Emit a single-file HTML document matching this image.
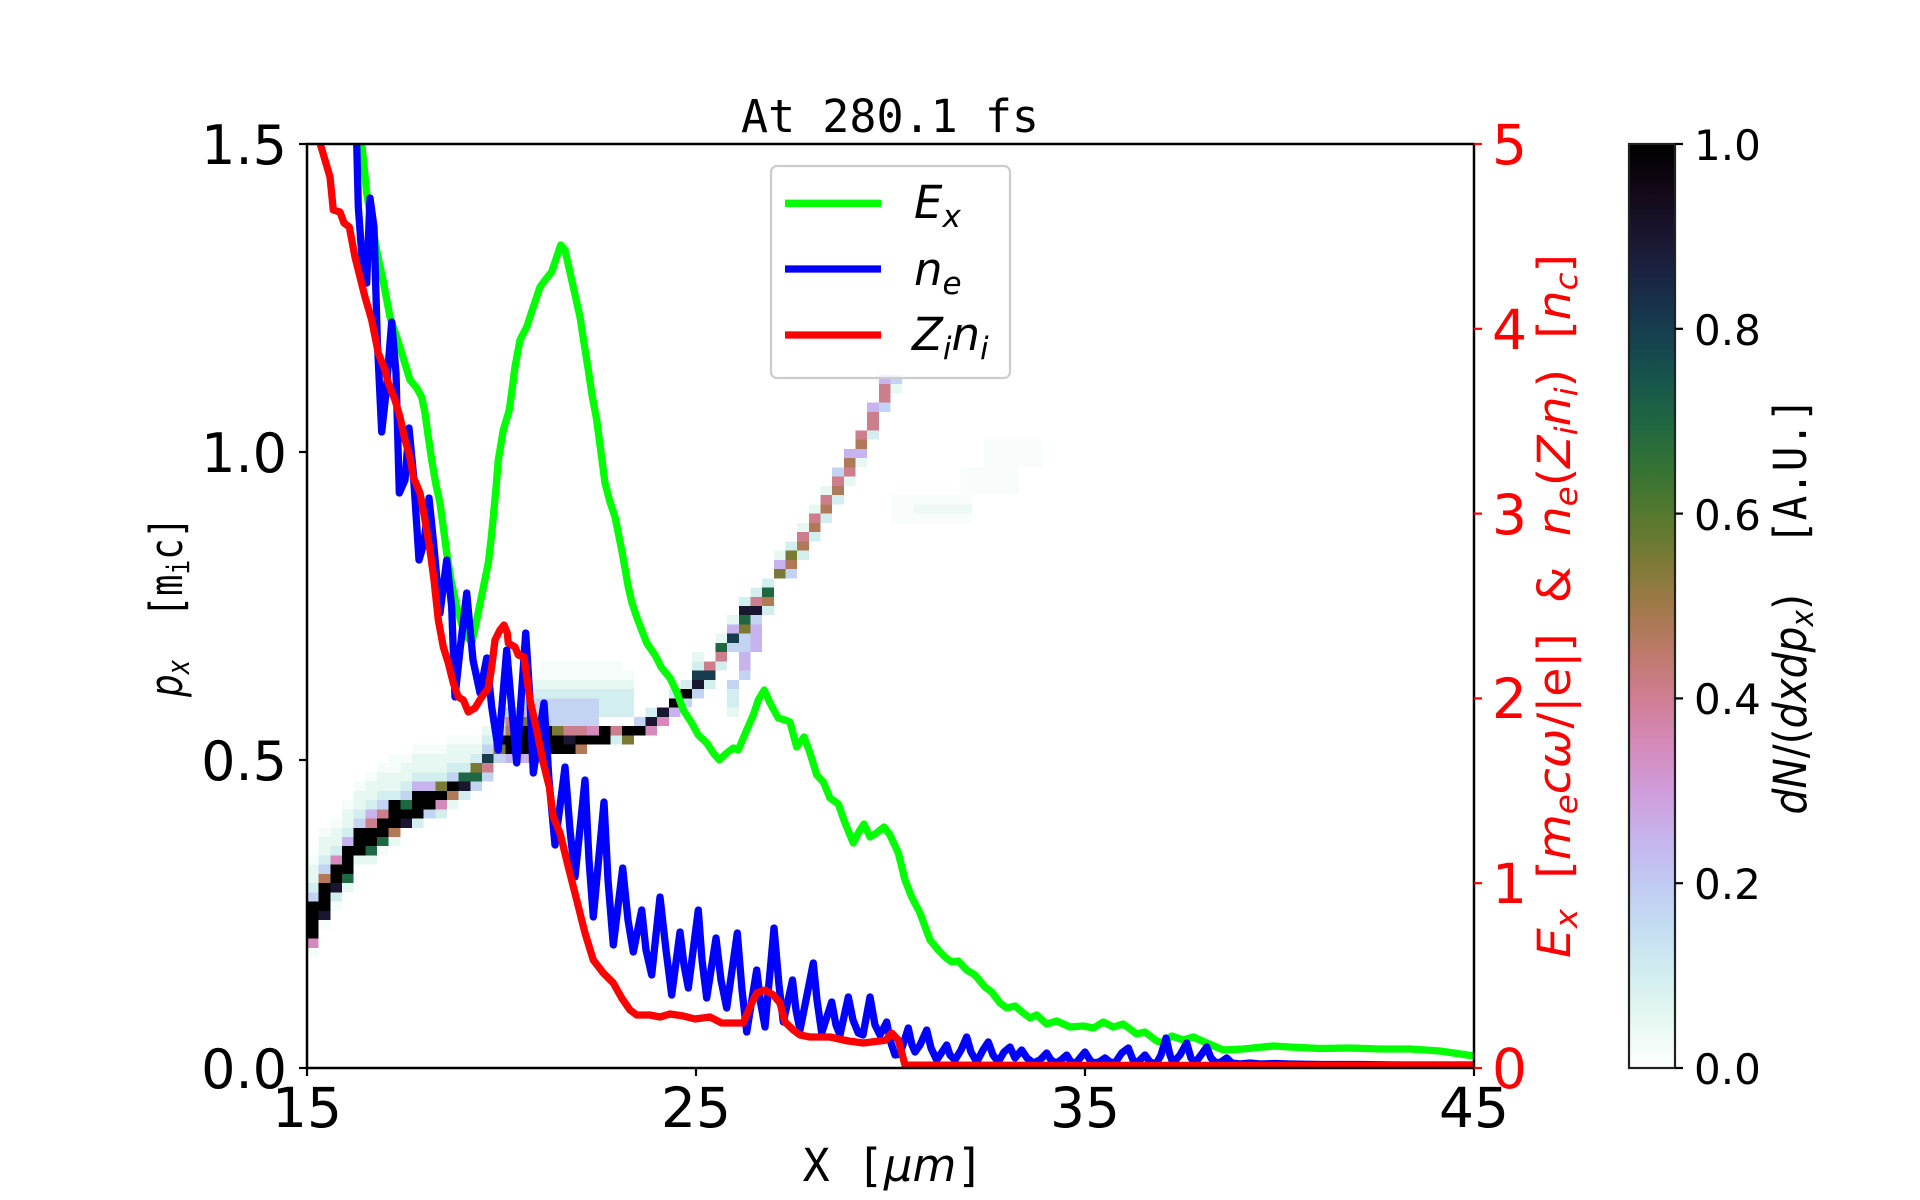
<!DOCTYPE html>
<html><head><meta charset="utf-8"><style>
html,body{margin:0;padding:0;background:#fff;}
svg{display:block;}
.tk{font-family:"DejaVu Sans","Liberation Sans",sans-serif;}
.mono{font-family:"DejaVu Sans Mono","Liberation Mono",monospace;}
</style></head><body>
<svg width="1920" height="1200" viewBox="0 0 1920 1200" xmlns="http://www.w3.org/2000/svg">
<defs>
<clipPath id="ax"><rect x="307" y="144" width="1167" height="924"/></clipPath>
<linearGradient id="cb" x1="0" y1="0" x2="0" y2="1">
<stop offset="0" stop-color="#000000"/><stop offset="0.05" stop-color="#120817"/><stop offset="0.10" stop-color="#1a1530"/><stop offset="0.15" stop-color="#1a2744"/><stop offset="0.20" stop-color="#163d4e"/><stop offset="0.25" stop-color="#16534c"/><stop offset="0.30" stop-color="#1f6642"/><stop offset="0.35" stop-color="#347335"/><stop offset="0.40" stop-color="#54792f"/><stop offset="0.45" stop-color="#7a7a35"/><stop offset="0.50" stop-color="#a07949"/><stop offset="0.55" stop-color="#be796a"/><stop offset="0.60" stop-color="#d07e93"/><stop offset="0.65" stop-color="#d48aba"/><stop offset="0.70" stop-color="#cf9cda"/><stop offset="0.75" stop-color="#c7b3ed"/><stop offset="0.80" stop-color="#c1caf3"/><stop offset="0.85" stop-color="#c5def2"/><stop offset="0.90" stop-color="#d2eeef"/><stop offset="0.95" stop-color="#e7f8f2"/><stop offset="1" stop-color="#ffffff"/>
</linearGradient>
</defs>
<rect width="1920" height="1200" fill="#fff"/>

<!-- heatmap -->
<g clip-path="url(#ax)">
<g transform="translate(307,1068) scale(11.67,-9.24)" shape-rendering="crispEdges">
<path fill="#f8fcfa" d="M50 59h7v3h-7z M56 62h5v3h-5z M58 65h5v3h-5z"/>
<path fill="#f5fcf9" d="M0 22h1v1h-1z M1 25h1v1h-1z M2 26h1v1h-1z M3 28h1v1h-1z M4 30h1v1h-1z M5 31h1v1h-1z M6 32h1v1h-1z M7 32h1v2h-1z M8 33h1v1h-1z M9 34h3v1h-3z M0 12h1v1h-1z M1 15h1v1h-1z M2 17h1v1h-1z M6 23h1v1h-1z M20 43h7v1h-7z M19 42h9v1h-9z M12 35h3v1h-3z"/>
<path fill="#eef9f5" d="M52 60h5v1h-5z"/>
<path fill="#e7f8f2" d="M0 20h1v2h-1z M1 23h1v2h-1z M2 24h1v2h-1z M3 26h1v2h-1z M3 19h1v1h-1z M4 28h1v2h-1z M4 22h1v1h-1z M5 29h1v2h-1z M5 22h1v1h-1z M6 30h1v2h-1z M7 30h1v2h-1z M7 24h1v1h-1z M8 31h1v2h-1z M9 32h1v2h-1z M10 32h1v2h-1z M11 32h1v2h-1z M12 33h1v2h-1z M12 28h1v1h-1z M13 33h1v2h-1z M14 34h1v1h-1z M15 36h1v1h-1z M16 38h1v1h-1z M19 41h9v1h-9z M33 44h1v1h-1z M35 46h1v1h-1z M36 48h1v1h-1z M40 55h1v1h-1z M42 58h1v1h-1z M43 60h1v1h-1z M44 62h1v1h-1z M46 63h1v1h-1z M47 65h1v1h-1z M50 73h1v1h-1z M36 38h1v1h-1z"/>
<path fill="#d2eeef" d="M0 19h1v1h-1z M1 22h1v1h-1z M2 23h1v1h-1z M2 18h1v1h-1z M3 25h1v1h-1z M4 27h1v1h-1z M5 28h1v1h-1z M6 29h2v1h-2z M8 30h1v1h-1z M9 31h3v1h-3z M9 26h1v1h-1z M11 27h1v1h-1z M12 32h2v1h-2z M13 29h1v1h-1z M14 33h1v1h-1z M15 35h1v1h-1z M16 37h1v1h-1z M19 40h9v1h-9z M25 38h3v2h-3z M20 33h1v1h-1z M26 35h1v1h-1z M29 38h1v1h-1z M31 40h1v1h-1z M32 41h1v1h-1z M33 43h1v1h-1z M34 41h1v1h-1z M35 43h1v1h-1z M37 50h1v1h-1z M38 51h1v1h-1z M39 49h1v1h-1z M39 52h1v1h-1z M41 56h1v1h-1z M42 55h1v1h-1z M43 57h1v1h-1z M44 59h1v1h-1z M45 61h1v1h-1z M48 68h1v1h-1z M36 39h1v2h-1z"/>
<path fill="#c3d4f2" d="M0 18h1v1h-1z M1 21h1v1h-1z M4 26h1v1h-1z M6 28h1v1h-1z M8 29h1v1h-1z M10 27h1v1h-1z M12 31h1v1h-1z M14 30h1v1h-1z M15 31h1v1h-1z M15 34h1v1h-1z M16 33h1v1h-1z M16 36h1v1h-1z M17 38h1v1h-1z M18 39h1v1h-1z M19 38h6v2h-6z M20 37h5v1h-5z M28 37h1v1h-1z M32 39h1v1h-1z M33 40h1v1h-1z M36 45h1v1h-1z M36 41h1v1h-1z M37 42h1v1h-1z M37 45h1v2h-1z M38 48h1v1h-1z M41 53h1v1h-1z M45 64h1v1h-1z M49 71h1v1h-1z M50 74h1v1h-1z"/>
<path fill="#c7b3ed" d="M3 24h1v1h-1z M5 27h1v1h-1z M9 30h2v1h-2z M17 33h2v1h-2z M18 38h1v1h-1z M31 38h1v1h-1z M36 47h1v1h-1z M37 43h1v2h-1z M38 45h1v3h-1z M40 54h1v1h-1z M46 66h2v1h-2z M48 71h1v1h-1z M49 74h1v1h-1z"/>
<path fill="#d48aba" d="M0 13h1v1h-1z M2 22h1v1h-1z M11 28h1v1h-1z M24 36h1v1h-1z M29 36h1v1h-1z M30 37h1v1h-1z"/>
<path fill="#cc7e8c" d="M5 26h1v1h-1z M6 27h1v1h-1z M15 32h1v1h-1z M17 37h1v1h-1z M19 33h1v1h-1z M19 37h1v1h-1z M22 36h2v1h-2z M26 36h1v1h-1z M34 43h1v1h-1z M35 44h1v1h-1z M38 50h1v1h-1z M42 57h1v1h-1z M43 59h1v1h-1z M44 61h1v1h-1z M45 63h1v1h-1z M46 64h1v1h-1z M47 68h1v1h-1z M48 69h1v2h-1z M49 72h1v2h-1z"/>
<path fill="#b07a5a" d="M1 20h1v1h-1z M7 25h1v1h-1z M12 29h1v1h-1z M17 36h1v1h-1z M23 34h1v1h-1z M39 50h1v1h-1z M41 54h1v1h-1z M42 56h1v1h-1z M43 58h1v1h-1z M44 60h1v1h-1z M45 62h1v1h-1z M46 65h1v1h-1z M47 67h1v1h-1z"/>
<path fill="#7a7a35" d="M11 30h1v1h-1z M14 32h1v1h-1z M16 34h1v1h-1z M18 37h1v1h-1z M21 36h1v1h-1z M27 35h1v1h-1z M37 47h1v1h-1z M40 53h1v1h-1z M41 55h1v1h-1z"/>
<path fill="#1f6642" d="M3 20h1v1h-1z M5 23h1v1h-1z M6 24h1v1h-1z M8 28h1v1h-1z M13 31h2v1h-2z M35 45h1v1h-1z M37 48h1v1h-1z M39 51h1v1h-1z"/>
<path fill="#163d4e" d="M15 33h1v1h-1z M33 42h2v1h-2z M36 46h1v1h-1z"/>
<path fill="#1a1530" d="M1 16h1v1h-1z M2 19h1v1h-1z M8 26h1v1h-1z M13 30h1v1h-1z M22 35h1v1h-1z M29 37h1v1h-1z M30 38h1v1h-1z M33 41h1v1h-1z M37 49h2v1h-2z"/>
<path fill="#000000" d="M0 14h1v4h-1z M1 17h1v3h-1z M2 20h1v2h-1z M3 21h1v3h-1z M4 23h1v3h-1z M5 24h1v2h-1z M6 25h1v2h-1z M7 26h1v3h-1z M8 27h1v1h-1z M9 27h1v3h-1z M10 28h1v2h-1z M11 29h1v1h-1z M12 30h1v1h-1z M16 35h1v1h-1z M17 34h1v2h-1z M18 34h3v3h-3z M21 34h1v2h-1z M22 34h1v1h-1z M23 35h2v1h-2z M25 35h1v2h-1z M27 36h2v1h-2z M31 39h1v1h-1z M32 40h1v1h-1z"/>
</g>
</g>

<!-- data lines -->
<g clip-path="url(#ax)" fill="none" stroke-width="7.3" stroke-linejoin="round">
<polyline stroke="#00ff00" points="358,125 361.7,143 366.7,193 372,225 378,257 383,280 390,317 396,335 401.7,353 406,367 410,380 416.7,388 421.7,397 425,413 428,435 431.7,460 436,485 440,503 443,525 446.7,553 451,580 456.7,607 462,625 467,637 472,642 476.7,620 482,594 488.3,563 491,540 493.3,517 496,488 498.3,460 503.3,430 509.3,410 512,390 515,367 520,340 526.7,327 533.3,307 540,287 546.7,278 551.7,272 556.7,257 560.7,245 565,250 571.7,280 580,317 584,343 588.3,370 592,395 596.7,420 600,445 605,483 610,502 615,517 621.7,550 628.3,587 632,603 636.7,617 646.7,643 655,655 661.7,668 670,678 676.7,692 683.3,710 691.7,723 698.3,735 706.7,743 713.3,753 719.3,760 726.7,753 733.3,748 738.3,750 746.7,730 753.3,715 758.3,700 764.3,690 770,703 778.3,718 785,720 790,722 796.7,747 804,737 810,753 816.7,775 823.3,782 830,798 838.3,804 845,823 853.3,843 858.3,833 864,824 870,837 876.7,833 884,827 890,835 898.3,853 905,880 911.7,897 920,913 930,940 938.3,950 945,957 951.7,962 958.3,961 966.7,970 975,975 985,987 991.7,992 1000,1003 1006.7,1008 1015,1006 1023.3,1013 1030,1018 1036.7,1015 1046.7,1024 1056.7,1021 1070,1027 1083.3,1026 1093.3,1028 1103.3,1022 1113.3,1027 1123.3,1024 1136.7,1034 1145,1032 1156.7,1041 1163.3,1043 1171.7,1036 1183.3,1040 1193.3,1037 1206.7,1043 1223.3,1050 1243.3,1049 1273.3,1046 1290,1047 1320,1048.5 1350,1048 1380,1049 1410,1049 1440,1051 1474,1056"/>
<polyline stroke="#0000ff" points="355,125 356.7,143 358.3,207 361.7,253 366.7,283 370,198 374,227 377.3,340 381.7,432 386,393 391.7,322 396,373 399.3,493 405,480 409,428 413.3,473 419,560 424,543 429,498 433.3,540 440,613 446.7,560 451.7,607 455,697 460,650 466.7,593 473,660 480,693 486.7,658 491.7,707 498.3,750 506.7,650 511,700 516.7,763 525.7,633 530,700 533.3,773 544,703 549,780 555,845 565,767 570,830 575,877 585,780 589,860 593.3,917 604,802 608,880 613.3,945 622.7,868 628,920 633.3,952 641.7,910 646,950 651.7,975 660,897 666,950 671.7,995 680,932 684,965 688.3,988 698.3,910 702,960 706.7,998 716,938 721,980 726.7,1008 737.3,933 742,990 746.7,1032 756.7,970 761,1005 765,1027 774,928 779,985 783.3,1022 792.5,980 796,1010 800,1030 806,1000 813.3,963 817,1000 821.7,1033 831.7,1002 836,1025 840,1035 848.3,997 853,1020 858.3,1033 863,1035 870,997 875,1025 880,1035 886.7,1022 890,1040 895,1055 900,1054 908.3,1028 912,1045 915,1052 920,1045 926.7,1030 931,1048 936.7,1060 946.7,1045 950,1055 955,1060 961,1050 966.7,1037 971,1052 976.7,1062 983,1050 988.3,1042 993,1055 998.3,1062 1004,1052 1010,1047 1015,1058 1021.7,1050 1027,1058 1033.3,1063 1040,1060 1046.7,1053 1051,1060 1056,1063 1061,1060 1066.7,1055 1071,1062 1076,1063 1080,1058 1085,1052 1090,1060 1093,1063 1099,1062 1105,1058 1110,1062 1115,1063 1121.7,1053 1128.3,1048 1133,1060 1136.7,1063 1142,1058 1145,1055 1150,1062 1156,1064 1161,1055 1166,1038 1170,1055 1173,1063 1180,1055 1186.7,1043 1191,1058 1195,1063 1201,1055 1206.7,1047 1211,1058 1216,1063 1221,1062 1226.7,1058 1232,1063 1240,1064 1250,1063 1260,1064 1275,1063.5 1290,1064 1320,1064.5 1360,1064.5 1400,1065 1474,1065"/>
<polyline stroke="#ff0000" points="318,125 320,143 325,160 330,177 333.3,210 340,212 344,223 349.3,227 355,257 360,277 365,297 371.7,320 378.3,353 385,370 388.3,383 395,400 400,417 405,440 410,457 413.3,477 420,493 425,520 430,550 434,580 438.3,620 443.3,647 448.3,663 453.3,683 458.3,697 463.3,700 468.3,712 475,708 481.7,697 488.3,688 491.7,667 495,640 500,630 504,625 507.3,633 508.3,643 515,647 518.3,655 524,657 530,700 536.7,730 543.3,763 549.3,787 553.3,817 560,833 568.3,867 576.7,900 585,933 593.3,960 603.3,973 613.3,983 621.7,998 630,1010 636.7,1015 650,1015 660,1017 670,1014 683.3,1016 695,1019 710,1017 721.7,1023 743.3,1023 750,1007 756.7,993 765,990 773.3,995 780,1003 785,1022 793.3,1030 800,1035 810,1037 830,1037 848.3,1041 863.3,1043 880,1041 886,1040 891.7,1033 898.3,1040 905,1065 1000,1065.3 1474,1065.5"/>
</g>

<!-- axes frame -->
<rect x="307" y="144" width="1167" height="924" fill="none" stroke="#000" stroke-width="2.5"/>

<!-- left ticks -->
<g stroke="#000" stroke-width="2.2">
<line x1="299" y1="1068" x2="307" y2="1068"/><line x1="299" y1="760" x2="307" y2="760"/><line x1="299" y1="452" x2="307" y2="452"/><line x1="299" y1="144" x2="307" y2="144"/>
<line x1="307" y1="1068" x2="307" y2="1076"/><line x1="696" y1="1068" x2="696" y2="1076"/><line x1="1085" y1="1068" x2="1085" y2="1076"/><line x1="1474" y1="1068" x2="1474" y2="1076"/>
</g>
<g class="tk" font-size="54" fill="#000" text-anchor="end">
<text x="287" y="1088">0.0</text><text x="287" y="780">0.5</text><text x="287" y="472">1.0</text><text x="287" y="164">1.5</text>
</g>
<g class="tk" font-size="55" fill="#000" text-anchor="middle">
<text x="307" y="1127">15</text><text x="696" y="1127">25</text><text x="1085" y="1127">35</text><text x="1474" y="1127">45</text>
</g>

<!-- right ticks red -->
<g stroke="#ff0000" stroke-width="2.2">
<line x1="1474" y1="1068" x2="1482" y2="1068"/><line x1="1474" y1="883.2" x2="1482" y2="883.2"/><line x1="1474" y1="698.4" x2="1482" y2="698.4"/><line x1="1474" y1="513.6" x2="1482" y2="513.6"/><line x1="1474" y1="328.8" x2="1482" y2="328.8"/><line x1="1474" y1="144" x2="1482" y2="144"/>
</g>
<g class="tk" font-size="55" fill="#ff0000">
<text x="1492" y="1088">0</text><text x="1492" y="903">1</text><text x="1492" y="718">2</text><text x="1492" y="534">3</text><text x="1492" y="349">4</text><text x="1492" y="164">5</text>
</g>

<!-- title and axis labels -->
<text class="mono" x="890" y="132" font-size="45" text-anchor="middle" fill="#000">At 280.1 fs</text>
<text class="mono" x="893" y="1181" font-size="45" text-anchor="middle" fill="#000">X&#160;[<tspan class="tk" font-style="italic">μm</tspan>]</text>

<text transform="translate(182,607) rotate(-90)" font-size="45" text-anchor="middle" fill="#000" textLength="180" lengthAdjust="spacingAndGlyphs"><tspan class="tk" font-style="italic">p</tspan><tspan class="tk" font-style="italic" font-size="31" dy="7">x</tspan><tspan class="mono" dy="-7">&#160;&#160;[m</tspan><tspan class="mono" font-size="31" dy="7">i</tspan><tspan class="mono" dy="-7">c]</tspan></text>

<text class="tk" transform="translate(1570,606) rotate(-90)" font-size="45" text-anchor="middle" fill="#ff0000" textLength="704" lengthAdjust="spacingAndGlyphs"><tspan font-style="italic">E</tspan><tspan font-style="italic" font-size="31" dy="7">x</tspan><tspan dy="-7">&#160;&#160;[</tspan><tspan font-style="italic">m</tspan><tspan font-style="italic" font-size="31" dy="7">e</tspan><tspan font-style="italic" dy="-7">cω</tspan><tspan>/|e|]&#160;&#160;&amp;&#160;&#160;</tspan><tspan font-style="italic">n</tspan><tspan font-style="italic" font-size="31" dy="7">e</tspan><tspan dy="-7">(</tspan><tspan font-style="italic">Z</tspan><tspan font-style="italic" font-size="31" dy="7">i</tspan><tspan font-style="italic" dy="-7">n</tspan><tspan font-style="italic" font-size="31" dy="7">i</tspan><tspan dy="-7">)&#160;&#160;[</tspan><tspan font-style="italic">n</tspan><tspan font-style="italic" font-size="31" dy="7">c</tspan><tspan dy="-7">]</tspan></text>

<!-- legend -->
<rect x="771" y="166" width="239" height="212" rx="6" ry="6" fill="#fff" fill-opacity="0.8" stroke="#cccccc" stroke-width="2.2"/>
<g stroke-width="7.3">
<line x1="785" y1="203.3" x2="881" y2="203.3" stroke="#00ff00"/>
<line x1="785" y1="269" x2="881" y2="269" stroke="#0000ff"/>
<line x1="785" y1="335" x2="881" y2="335" stroke="#ff0000"/>
</g>
<g class="tk" font-size="45" font-style="italic" fill="#000">
<text x="914" y="218">E<tspan font-size="31" dy="9">x</tspan></text>
<text x="914" y="285">n<tspan font-size="31" dy="9">e</tspan></text>
<text x="912" y="350">Z<tspan font-size="31" dy="9">i</tspan><tspan dy="-9">n</tspan><tspan font-size="31" dy="9">i</tspan></text>
</g>

<!-- colorbar -->
<rect x="1629" y="144" width="46" height="924" fill="url(#cb)" stroke="#222" stroke-width="2.2"/>
<g stroke="#000" stroke-width="2.2">
<line x1="1675" y1="144" x2="1683" y2="144"/><line x1="1675" y1="328.8" x2="1683" y2="328.8"/><line x1="1675" y1="513.6" x2="1683" y2="513.6"/><line x1="1675" y1="698.4" x2="1683" y2="698.4"/><line x1="1675" y1="883.2" x2="1683" y2="883.2"/><line x1="1675" y1="1068" x2="1683" y2="1068"/>
</g>
<g class="tk" font-size="42" fill="#000">
<text x="1694" y="160">1.0</text><text x="1694" y="345">0.8</text><text x="1694" y="530">0.6</text><text x="1694" y="714">0.4</text><text x="1694" y="899">0.2</text><text x="1694" y="1084">0.0</text>
</g>
<text transform="translate(1806,606) rotate(-90)" font-size="45" text-anchor="middle" fill="#000" textLength="417" lengthAdjust="spacingAndGlyphs"><tspan class="tk" font-style="italic">dN</tspan><tspan class="tk">/(</tspan><tspan class="tk" font-style="italic">dxdp</tspan><tspan class="tk" font-style="italic" font-size="31" dy="7">x</tspan><tspan class="tk" dy="-7">)</tspan><tspan class="mono">&#160;&#160;[A.U.]</tspan></text>
</svg>
</body></html>
